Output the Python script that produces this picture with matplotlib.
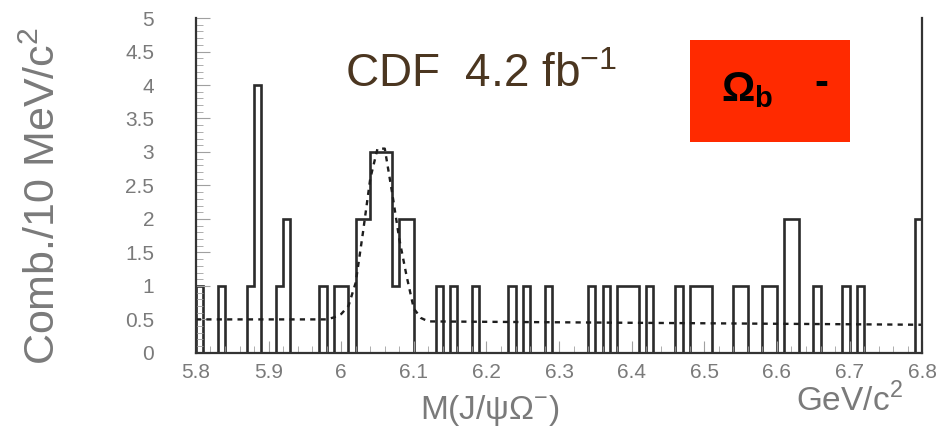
import numpy as np
import matplotlib.pyplot as plt
from matplotlib.patches import Rectangle
from matplotlib.ticker import MultipleLocator

# candidates per 10 MeV bin, 5.80 -> 6.80 GeV
mass_lo = 5.80
bin_width = 0.01
counts = [
    1, 0, 0, 1, 0, 0, 0, 1, 4, 0,
    0, 1, 2, 0, 0, 0, 0, 1, 0, 1,
    1, 0, 2, 2, 3, 3, 3, 1, 2, 2,
    0, 0, 0, 1, 0, 1, 0, 0, 1, 0,
    0, 0, 0, 1, 0, 1, 0, 0, 1, 0,
    0, 0, 0, 0, 1, 0, 1, 0, 1, 1,
    1, 0, 1, 0, 0, 0, 1, 0, 1, 1,
    1, 0, 0, 0, 1, 1, 0, 0, 1, 1,
    0, 2, 2, 0, 0, 1, 0, 0, 0, 1,
    0, 1, 0, 0, 0, 0, 0, 0, 0, 2,
]

# fitted signal + background curve
fit_mass = [5.80, 5.98, 5.99, 6.00, 6.01, 6.02, 6.03, 6.04, 6.05, 6.06,
            6.07, 6.08, 6.09, 6.10, 6.11, 6.12, 6.80]
fit_value = [0.50, 0.50, 0.53, 0.58, 0.70, 1.05, 1.80, 2.60, 3.05, 3.05,
             2.40, 1.70, 1.15, 0.66, 0.52, 0.47, 0.42]

x_ticks = [5.8, 5.9, 6.0, 6.1, 6.2, 6.3, 6.4, 6.5, 6.6, 6.7, 6.8]
x_tick_labels = ["5.8", "5.9", "6", "6.1", "6.2", "6.3", "6.4", "6.5", "6.6", "6.7", "6.8"]
y_ticks = [0, 0.5, 1, 1.5, 2, 2.5, 3, 3.5, 4, 4.5, 5]
y_tick_labels = ["0", "0.5", "1", "1.5", "2", "2.5", "3", "3.5", "4", "4.5", "5"]

plt.rcParams["font.family"] = ["Liberation Sans", "DejaVu Sans"]
plt.rcParams["mathtext.fontset"] = "custom"
plt.rcParams["mathtext.rm"] = "Liberation Sans"
plt.rcParams["mathtext.bf"] = "Liberation Sans:bold"

fig = plt.figure(figsize=(9.42, 4.4), dpi=100)
ax = fig.add_axes([0.208, 0.198, 0.771, 0.761])

edges = mass_lo + bin_width * np.arange(len(counts) + 1)
ax.stairs(counts, edges, color="#2b2b2b", lw=1.9)
ax.plot(fit_mass, fit_value, color="#1e1e1e", lw=1.7, ls=(0, (2.2, 2.2)))

ax.set_xlim(5.8, 6.8)
ax.set_ylim(0, 5)

gray = "#7a7a7a"
ax.set_xticks(x_ticks)
ax.set_xticklabels(x_tick_labels)
ax.set_yticks(y_ticks)
ax.set_yticklabels(y_tick_labels)
ax.xaxis.set_minor_locator(MultipleLocator(0.02))
ax.yaxis.set_minor_locator(MultipleLocator(0.1))
ax.tick_params(axis="both", which="both", direction="in", colors="#a0a0a0",
               labelcolor=gray, labelsize=15)
ax.tick_params(axis="x", which="major", length=9, pad=7)
ax.tick_params(axis="x", which="minor", length=5)
ax.tick_params(axis="y", which="major", length=10, pad=30)
ax.tick_params(axis="y", which="minor", length=5)

ax.spines["top"].set_visible(False)
for side in ["left", "bottom", "right"]:
    ax.spines[side].set_color("#333333")
    ax.spines[side].set_linewidth(1.6)

fig.text(0.047, 0.555, "Comb./10 MeV/c$^2$", rotation=90, color=gray,
         fontsize=31, ha="center", va="center")
fig.text(0.52, 0.068, r"M(J/$\mathrm{\psi\Omega}^{-}$)", color=gray, fontsize=24,
         ha="center", va="center")
fig.text(0.902, 0.09, "GeV/c$^2$", color=gray, fontsize=24,
         ha="center", va="center")

fig.text(0.366, 0.83, r"CDF  4.2 fb$^{\mathregular{-1}}$", color="#4b3620",
         fontsize=33, ha="left", va="center")

fig.patches.append(Rectangle((0.732, 0.678), 0.17, 0.23, transform=fig.transFigure,
                             facecolor="#ff2a00", edgecolor="none"))
fig.text(0.765, 0.795, r"$\mathbf{\Omega_b}$", color="black", fontsize=30,
         ha="left", va="center")
fig.text(0.865, 0.81, "-", color="black", fontsize=30, fontweight="bold",
         ha="left", va="center")

fig.savefig("out.png", dpi=100)
